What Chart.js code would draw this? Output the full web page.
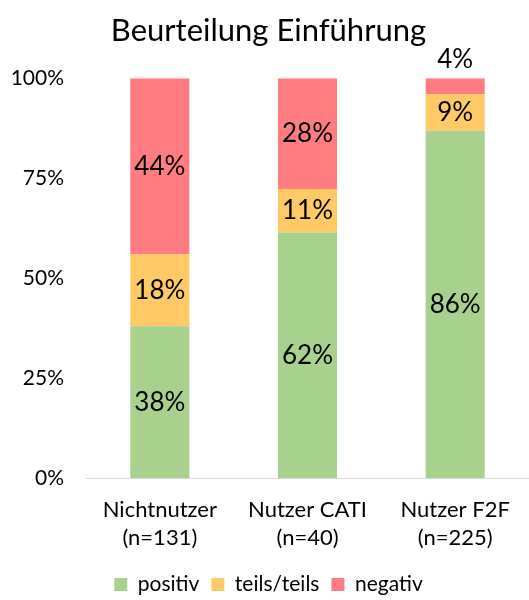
<!DOCTYPE html>
<html>
<head>
<meta charset="utf-8">
<script src="https://cdn.jsdelivr.net/npm/chart.js@4"></script>
<style>
  html, body { margin: 0; padding: 0; background: #fff; }
  #wrap { width: 529px; height: 600px; }
</style>
</head>
<body>
<div id="wrap"><canvas id="chart"></canvas></div>
<script>
const categories = [['Nichtnutzer', '(n=131)'], ['Nutzer CATI', '(n=40)'], ['Nutzer F2F', '(n=225)']];
const seriesNames = ['positiv', 'teils/teils', 'negativ'];
const positiv = [38, 62, 86];
const teils = [18, 11, 9];
const negativ = [44, 28, 4];
const yTicks = [0, 25, 50, 75, 100];
const colors = ['#a9d18e', '#ffca66', '#ff7c80'];

const font = 'Lato';
Chart.defaults.font.family = font;
Chart.defaults.color = '#000';

// Excel style 100% stacking: normalise each column to its total
const rows = [positiv, teils, negativ];
const totals = categories.map(function (c, j) {
    return rows.reduce(function (s, r) { return s + r[j]; }, 0);
});
const datasets = rows.map(function (r, i) {
    return {
        label: seriesNames[i],
        data: r.map(function (v, j) { return v / totals[j] * 100; }),
        shown: r,
        backgroundColor: colors[i],
        borderWidth: 0,
        barPercentage: 0.4,
        categoryPercentage: 1
    };
});

const segmentLabels = {
    id: 'segmentLabels',
    afterDatasetsDraw(chart) {
        const ctx = chart.ctx;
        ctx.save();
        ctx.font = '26px ' + font;
        ctx.fillStyle = '#000';
        ctx.textAlign = 'center';
        ctx.textBaseline = 'middle';
        chart.data.datasets.forEach(function (ds, i) {
            chart.getDatasetMeta(i).data.forEach(function (bar, j) {
                const text = ds.shown[j] + '%';
                const h = bar.base - bar.y;
                const y = h < 28 ? bar.y - 19 : (bar.y + bar.base) / 2;
                ctx.fillText(text, bar.x, y);
            });
        });
        ctx.restore();
    }
};

new Chart(document.getElementById('chart').getContext('2d'), {
    type: 'bar',
    data: { labels: categories, datasets: datasets },
    plugins: [segmentLabels],
    options: {
        responsive: true,
        maintainAspectRatio: false,
        animation: false,
        layout: { padding: { left: 8, right: 0, top: 0, bottom: -5 } },
        scales: {
            x: {
                stacked: true,
                grid: { display: false },
                border: { display: true, color: '#d9d9d9', width: 1 },
                ticks: { font: { size: 22, lineHeight: 1.27 }, padding: 10 }
            },
            y: {
                stacked: true,
                min: 0,
                max: 100,
                afterBuildTicks: function (axis) {
                    axis.ticks = yTicks.map(function (v) { return { value: v }; });
                },
                afterFit: function (axis) { axis.width = 78; },
                grid: { display: false },
                border: { display: false },
                ticks: {
                    font: { size: 21 },
                    padding: 14,
                    callback: function (v) { return v + '%'; }
                }
            }
        },
        plugins: {
            title: {
                display: true,
                text: 'Beurteilung Einführung',
                font: { size: 31, weight: 'normal' },
                padding: { top: 12, bottom: 29 }
            },
            legend: {
                position: 'bottom',
                labels: {
                    font: { size: 21 },
                    boxWidth: 13,
                    boxHeight: 13,
                    padding: 12
                }
            },
            tooltip: { enabled: false }
        }
    }
});
</script>
</body>
</html>
